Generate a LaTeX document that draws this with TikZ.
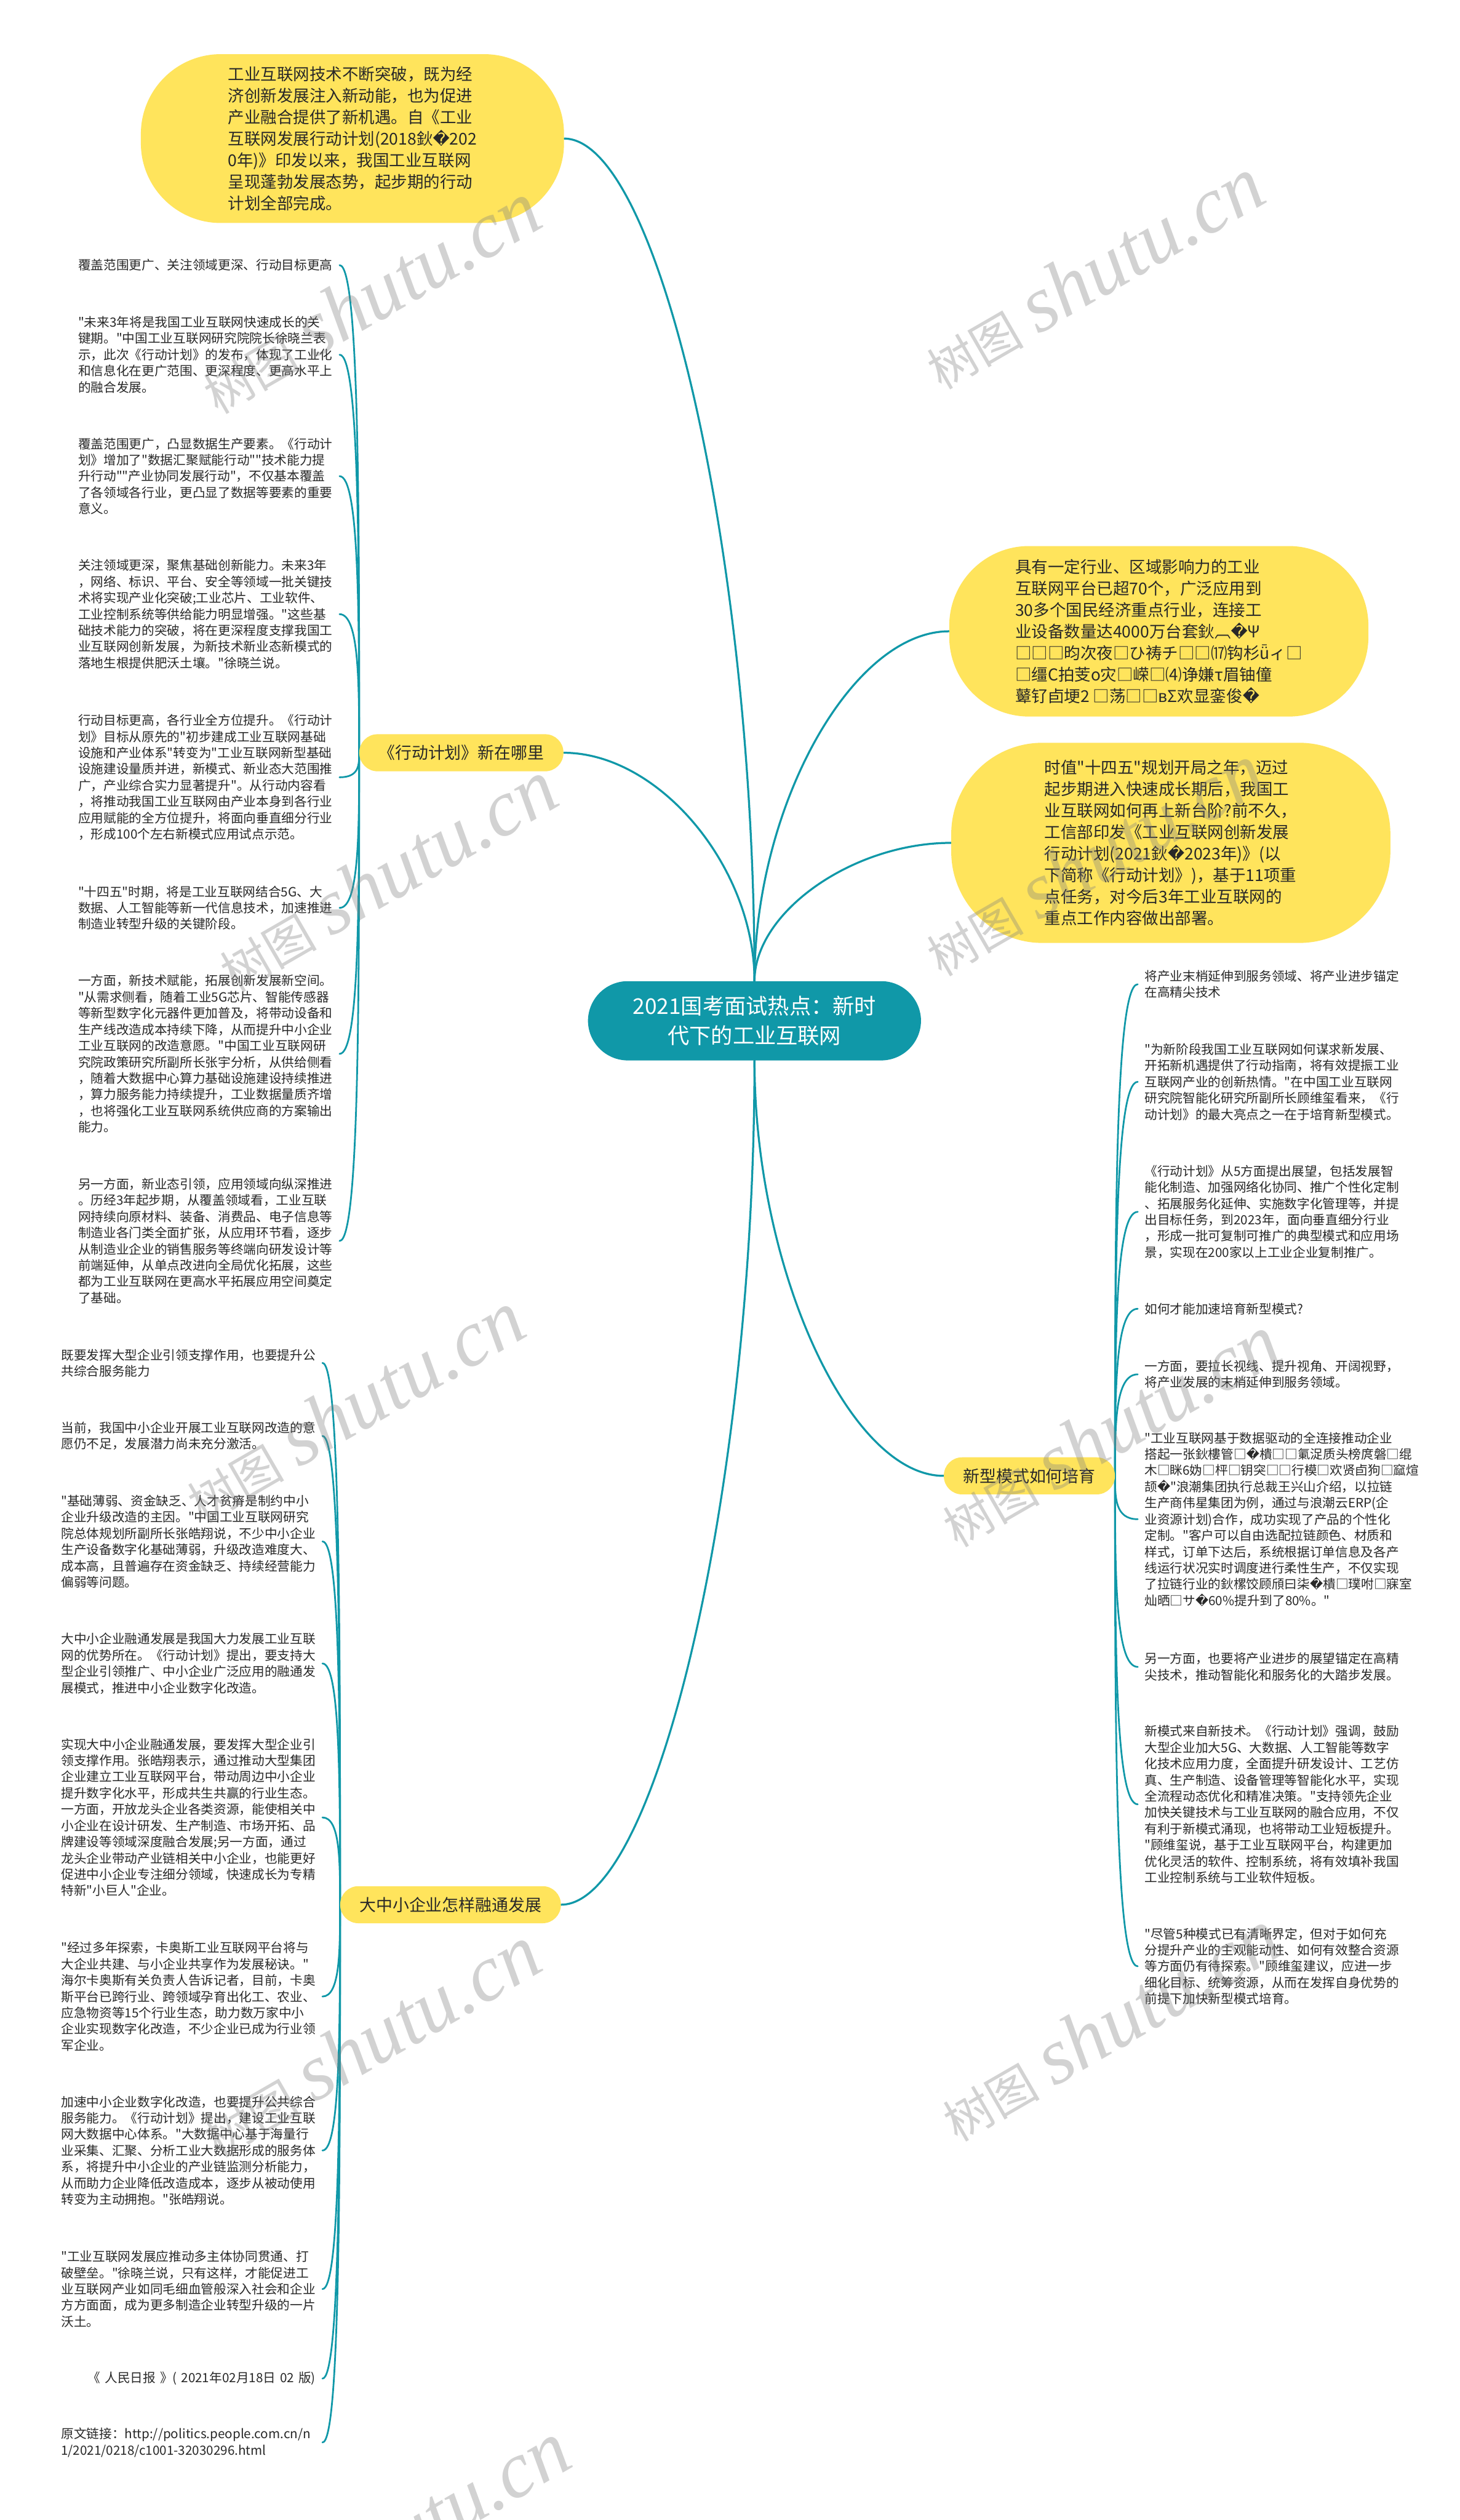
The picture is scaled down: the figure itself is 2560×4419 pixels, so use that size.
\documentclass[tikz,border=0pt]{standalone}
\usepackage{fontspec}
\setmainfont{Noto Sans CJK SC}[Ligatures=TeXOff]
\newfontfamily\dvfont{DejaVu Sans}
\newfontfamily\wmfont{Liberation Serif}
\usetikzlibrary{calc}
\definecolor{teal1}{RGB}{16,152,168}
\definecolor{yel}{RGB}{255,228,92}
\definecolor{txt}{RGB}{40,40,40}
\newcommand{\rc}{{\dvfont\char"FFFD}}
\pgfdeclarelayer{back}
\pgfdeclarelayer{bg}
\pgfdeclarelayer{front}
\pgfsetlayers{back,bg,main,front}
\tikzset{
 leaf/.style={anchor=west, align=left, text width=446pt, inner xsep=12pt, inner ysep=0pt, font=\fontsize{22.3}{28.5}\selectfont, text=txt},
 leafR/.style={leaf, align=right},
 bub/.style={fill=yel, align=left, font=\fontsize{28.6}{37.7}\selectfont, text=txt, inner sep=0pt},
 lab/.style={fill=yel, rounded corners=32pt, font=\fontsize{29}{35}\selectfont, text=txt, minimum height=65pt, inner xsep=34pt},
 ctr/.style={fill=teal1, rounded corners=70pt, text=white, align=center, font=\fontsize{38}{51.5}\selectfont, minimum width=584pt, minimum height=139pt},
 conn/.style={draw=teal1, line width=3.5pt, line cap=round},
 lconn/.style={draw=teal1, line width=3pt, line cap=round},
 wm/.style={text=gray, text opacity=0.35, rotate=30, inner sep=0pt}
}
\newcommand\mconn[2]{\draw[conn] (#1) .. controls ($(#1)!0.5!(#1|-#2)$) and ($(#1|-#2)!0.5!(#2)$) .. (#2);}
\newcommand\lconnect[2]{\draw[lconn] (#1) .. controls ($(#1)!0.5!(#1|-#2)$) and (#1|-#2) .. (#2);}
\newcommand\wmtext{{\fontsize{85}{85}\selectfont 树图}\hspace{25pt}{\wmfont\itshape\fontsize{140}{140}\selectfont shutu.cn}}
\begin{document}
\begin{tikzpicture}[x=1pt,y=-1pt]
\useasboundingbox (0,0) rectangle (2560,4419);
\begin{pgfonlayer}{back}
\fill[white] (0,0) rectangle (2560,4419);
\end{pgfonlayer}

% center
\node[ctr] (C) at (1323,1790) {2021国考面试热点：新时\\代下的工业互联网};

% bubbles
\node[bub, minimum width=742pt, minimum height=296pt, rounded corners=140pt] (T) at (618,243) {工业互联网技术不断突破，既为经\\济创新发展注入新动能，也为促进\\产业融合提供了新机遇。自《工业\\互联网发展行动计划(2018鈥\rc{}202\\0年)》印发以来，我国工业互联网\\呈现蓬勃发展态势，起步期的行动\\计划全部完成。};

\node[bub, minimum width=735pt, minimum height=299pt, rounded corners=140pt] (R1) at (2032,1107) {具有一定行业、区域影响力的工业\\互联网平台已超70个，广泛应用到\\30多个国民经济重点行业，连接工\\业设备数量达4000万台套鈥︹\rc{}Ψ\\□□□昀次夜□ひ祷チ□□⒄钩杉ǖィ□\\□缰С拍芰ο灾□嵘□⑷诤嫌τ眉铀僮\\鼙钌卣埂2 □荡□□вΣ欢显銮俊\rc{}};

\node[bub, minimum width=770pt, minimum height=351pt, rounded corners=160pt] (R2) at (2053,1478) {时值"十四五"规划开局之年，迈过\\起步期进入快速成长期后，我国工\\业互联网如何再上新台阶?前不久，\\工信部印发《工业互联网创新发展\\行动计划(2021鈥\rc{}2023年)》(以\\下简称《行动计划》)，基于11项重\\点任务，对今后3年工业互联网的\\重点工作内容做出部署。};

% labels
\node[lab] (LA) at (809,1320) {《行动计划》新在哪里};
\node[lab] (LB) at (790,3340) {大中小企业怎样融通发展};
\node[lab] (LC) at (1805,2588) {新型模式如何培育};

% group A
\node[leaf] (a1) at (125,465) {覆盖范围更广、关注领域更深、行动目标更高};
\node[leaf] (a2) at (125,622) {"未来3年将是我国工业互联网快速成长的关\\键期。"中国工业互联网研究院院长徐晓兰表\\示，此次《行动计划》的发布，体现了工业化\\和信息化在更广范围、更深程度、更高水平上\\的融合发展。};
\node[leaf] (a3) at (125,835) {覆盖范围更广，凸显数据生产要素。《行动计\\划》增加了"数据汇聚赋能行动""技术能力提\\升行动""产业协同发展行动"，不仅基本覆盖\\了各领域各行业，更凸显了数据等要素的重要\\意义。};
\node[leaf] (a4) at (125,1077) {关注领域更深，聚焦基础创新能力。未来3年\\，网络、标识、平台、安全等领域一批关键技\\术将实现产业化突破;工业芯片、工业软件、\\工业控制系统等供给能力明显增强。"这些基\\础技术能力的突破，将在更深程度支撑我国工\\业互联网创新发展，为新技术新业态新模式的\\落地生根提供肥沃土壤。"徐晓兰说。};
\node[leaf] (a5) at (125,1363) {行动目标更高，各行业全方位提升。《行动计\\划》目标从原先的"初步建成工业互联网基础\\设施和产业体系"转变为"工业互联网新型基础\\设施建设量质并进，新模式、新业态大范围推\\广，产业综合实力显著提升"。从行动内容看\\，将推动我国工业互联网由产业本身到各行业\\应用赋能的全方位提升，将面向垂直细分行业\\，形成100个左右新模式应用试点示范。};
\node[leaf] (a6) at (125,1592) {"十四五"时期，将是工业互联网结合5G、大\\数据、人工智能等新一代信息技术，加速推进\\制造业转型升级的关键阶段。};
\node[leaf] (a7) at (125,1848) {一方面，新技术赋能，拓展创新发展新空间。\\"从需求侧看，随着工业5G芯片、智能传感器\\等新型数字化元器件更加普及，将带动设备和\\生产线改造成本持续下降，从而提升中小企业\\工业互联网的改造意愿。"中国工业互联网研\\究院政策研究所副所长张宇分析，从供给侧看\\，随着大数据中心算力基础设施建设持续推进\\，算力服务能力持续提升，工业数据量质齐增\\，也将强化工业互联网系统供应商的方案输出\\能力。};
\node[leaf] (a8) at (125,2176) {另一方面，新业态引领，应用领域向纵深推进\\。历经3年起步期，从覆盖领域看，工业互联\\网持续向原材料、装备、消费品、电子信息等\\制造业各门类全面扩张，从应用环节看，逐步\\从制造业企业的销售服务等终端向研发设计等\\前端延伸，从单点改进向全局优化拓展，这些\\都为工业互联网在更高水平拓展应用空间奠定\\了基础。};

% group B
\node[leaf] (b1) at (95,2390) {既要发挥大型企业引领支撑作用，也要提升公\\共综合服务能力};
\node[leaf] (b2) at (95,2518) {当前，我国中小企业开展工业互联网改造的意\\愿仍不足，发展潜力尚未充分激活。};
\node[leaf] (b3) at (95,2703) {"基础薄弱、资金缺乏、人才贫瘠是制约中小\\企业升级改造的主因。"中国工业互联网研究\\院总体规划所副所长张皓翔说，不少中小企业\\生产设备数字化基础薄弱，升级改造难度大、\\成本高，且普遍存在资金缺乏、持续经营能力\\偏弱等问题。};
\node[leaf] (b4) at (95,2917) {大中小企业融通发展是我国大力发展工业互联\\网的优势所在。《行动计划》提出，要支持大\\型企业引领推广、中小企业广泛应用的融通发\\展模式，推进中小企业数字化改造。};
\node[leaf] (b5) at (95,3187) {实现大中小企业融通发展，要发挥大型企业引\\领支撑作用。张皓翔表示，通过推动大型集团\\企业建立工业互联网平台，带动周边中小企业\\提升数字化水平，形成共生共赢的行业生态。\\一方面，开放龙头企业各类资源，能使相关中\\小企业在设计研发、生产制造、市场开拓、品\\牌建设等领域深度融合发展;另一方面，通过\\龙头企业带动产业链相关中小企业，也能更好\\促进中小企业专注细分领域，快速成长为专精\\特新"小巨人"企业。};
\node[leaf] (b6) at (95,3501) {"经过多年探索，卡奥斯工业互联网平台将与\\大企业共建、与小企业共享作为发展秘诀。"\\海尔卡奥斯有关负责人告诉记者，目前，卡奥\\斯平台已跨行业、跨领域孕育出化工、农业、\\应急物资等15个行业生态，助力数万家中小\\企业实现数字化改造，不少企业已成为行业领\\军企业。};
\node[leaf] (b7) at (95,3771) {加速中小企业数字化改造，也要提升公共综合\\服务能力。《行动计划》提出，建设工业互联\\网大数据中心体系。"大数据中心基于海量行\\业采集、汇聚、分析工业大数据形成的服务体\\系，将提升中小企业的产业链监测分析能力，\\从而助力企业降低改造成本，逐步从被动使用\\转变为主动拥抱。"张皓翔说。};
\node[leaf] (b8) at (95,4014) {"工业互联网发展应推动多主体协同贯通、打\\破壁垒。"徐晓兰说，只有这样，才能促进工\\业互联网产业如同毛细血管般深入社会和企业\\方方面面，成为更多制造企业转型升级的一片\\沃土。};
\node[leafR] (b9) at (95,4171) {《 人民日报 》( 2021年02月18日 02 版)};
\node[leaf] (b10) at (95,4283) {原文链接：http://politics.people.com.cn/n\\1/2021/0218/c1001-32030296.html};

% group C
\node[leaf] (c1) at (1995,1726) {将产业末梢延伸到服务领域、将产业进步锚定\\在高精尖技术};
\node[leaf] (c2) at (1995,1897) {"为新阶段我国工业互联网如何谋求新发展、\\开拓新机遇提供了行动指南，将有效提振工业\\互联网产业的创新热情。"在中国工业互联网\\研究院智能化研究所副所长顾维玺看来，《行\\动计划》的最大亮点之一在于培育新型模式。};
\node[leaf] (c3) at (1995,2125) {《行动计划》从5方面提出展望，包括发展智\\能化制造、加强网络化协同、推广个性化定制\\、拓展服务化延伸、实施数字化管理等，并提\\出目标任务，到2023年，面向垂直细分行业\\，形成一批可复制可推广的典型模式和应用场\\景，实现在200家以上工业企业复制推广。};
\node[leaf] (c4) at (1995,2295) {如何才能加速培育新型模式?};
\node[leaf] (c5) at (1995,2410) {一方面，要拉长视线、提升视角、开阔视野，\\将产业发展的末梢延伸到服务领域。};
\node[leaf] (c6) at (1995,2664) {"工业互联网基于数据驱动的全连接推动企业\\搭起一张鈥樓管□\rc{}樻□□氭浞质头榜庹磐□绲\\木□眯6妫□枰□钥突□□行模□欢贤卣狗□窳煊\\颉\rc{}"浪潮集团执行总裁王兴山介绍，以拉链\\生产商伟星集团为例，通过与浪潮云ERP(企\\业资源计划)合作，成功实现了产品的个性化\\定制。"客户可以自由选配拉链颜色、材质和\\样式，订单下达后，系统根据订单信息及各产\\线运行状况实时调度进行柔性生产，不仅实现\\了拉链行业的鈥樏饺顾頎曰柒\rc{}樻□璞咐□寐室\\灿晒□サ\rc{}60\%提升到了80\%。"};
\node[leaf] (c7) at (1995,2923) {另一方面，也要将产业进步的展望锚定在高精\\尖技术，推动智能化和服务化的大踏步发展。};
\node[leaf] (c8) at (1995,3164) {新模式来自新技术。《行动计划》强调，鼓励\\大型企业加大5G、大数据、人工智能等数字\\化技术应用力度，全面提升研发设计、工艺仿\\真、生产制造、设备管理等智能化水平，实现\\全流程动态优化和精准决策。"支持领先企业\\加快关键技术与工业互联网的融合应用，不仅\\有利于新模式涌现，也将带动工业短板提升。\\"顾维玺说，基于工业互联网平台，构建更加\\优化灵活的软件、控制系统，将有效填补我国\\工业控制系统与工业软件短板。};
\node[leaf] (c9) at (1995,3448) {"尽管5种模式已有清晰界定，但对于如何充\\分提升产业的主观能动性、如何有效整合资源\\等方面仍有待探索。"顾维玺建议，应进一步\\细化目标、统筹资源，从而在发挥自身优势的\\前提下加快新型模式培育。};

\begin{pgfonlayer}{bg}
\mconn{C.north}{T.east}
\mconn{C.north}{R1.west}
\mconn{C.north}{R2.west}
\mconn{C.north}{LA.east}
\mconn{C.south}{LB.east}
\mconn{C.south}{LC.west}
\foreach \n in {a1,a2,a3,a4,a5,a6,a7,a8}{\lconnect{LA.west}{\n.east}}
\foreach \n in {b1,b2,b3,b4,b5,b6,b7,b8,b9,b10}{\lconnect{LB.west}{\n.east}}
\foreach \n in {c1,c2,c3,c4,c5,c6,c7,c8,c9}{\lconnect{LC.east}{\n.west}}
\end{pgfonlayer}

\begin{pgfonlayer}{front}
\node[wm] (w1) at (648,522) {\wmtext};
\node[wm] (w2) at (1917,479) {\wmtext};
\node[wm] (w3) at (677,1536) {\wmtext};
\node[wm] (w4) at (1917,1508) {\wmtext};
\node[wm] (w5) at (620,2467) {\wmtext};
\node[wm] (w6) at (1945,2509) {\wmtext};
\node[wm] (w7) at (648,3580) {\wmtext};
\node[wm] (w8) at (1945,3552) {\wmtext};
\node[wm] (w9) at (700,4450) {\wmtext};
\end{pgfonlayer}
\end{tikzpicture}
\end{document}
